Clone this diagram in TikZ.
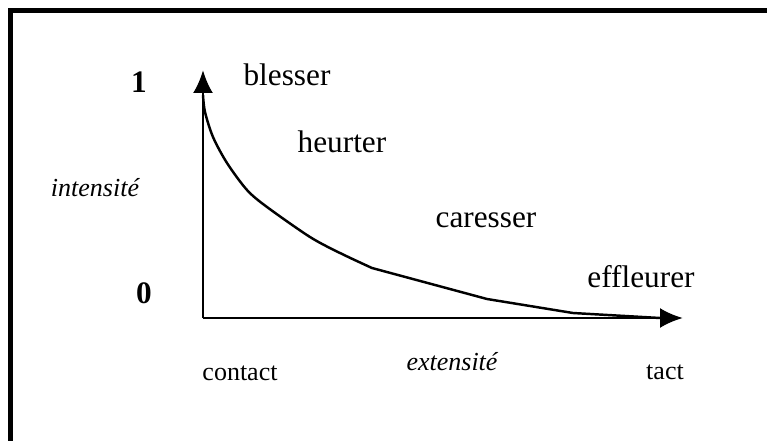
\documentclass[tikz,border=0pt]{standalone}
\usepackage{fontspec}
\setmainfont{Liberation Serif}
\usetikzlibrary{arrows.meta}
\tikzset{
  every picture/.style={>={Latex[length=4.6mm,width=4mm]}},
  axis/.style={line width=1.6pt},
  curve/.style={line width=1.4pt, line join=round},
  verb/.style={font=\fontsize{17.8}{20}\selectfont},
  tick/.style={font=\bfseries\fontsize{17.8}{20}\selectfont},
  lab/.style={font=\fontsize{14.8}{17}\selectfont},
}
\newcommand{\frm}{% thick frame, cut by the page on two sides
  \draw[line width=3.2pt] (-3.85,-2.6) -- (-3.85,6.15) -- (11.4,6.15);
}
\begin{document}
\begin{tikzpicture}
  \path[use as bounding box] (-4.06,-2.44) rectangle (11.28,6.36);
  \frm
  \coordinate (O) at (0,0);
  \coordinate (ytop) at (0,4.96);
  \coordinate (xend) at (9.6,0);
  \draw[axis,->] (O) -- (ytop);
  \draw[axis,->] (O) -- (xend);
  % decreasing intensity curve
  \draw[curve] plot[smooth,tension=0.5] coordinates {(0,4.46) (0.04,4.12) (0.2,3.62)
    (0.48,3.1) (0.88,2.56) (1.28,2.22) (2.14,1.62) (2.74,1.3) (3.38,1.0)}
    -- (5.68,0.38) -- (7.4,0.1) -- (9.14,0);
  \node[tick] (one) at (-1.28,4.72) {1};
  \node[tick] (zero) at (-1.18,0.5) {0};
  \node[lab] (intens) at (-2.16,2.6) {\itshape intensité};
  \node[lab] (extens) at (4.98,-0.88) {\itshape extensité};
  \node[lab] (contact) at (0.74,-1.1) {contact};
  \node[lab] (tact) at (9.24,-1.08) {tact};
  \node[verb] (blesser) at (1.68,4.86) {blesser};
  \node[verb] (heurter) at (2.78,3.52) {heurter};
  \node[verb] (caresser) at (5.66,1.96) {caresser};
  \node[verb] (effleurer) at (8.76,0.82) {effleurer};
\end{tikzpicture}
\end{document}
